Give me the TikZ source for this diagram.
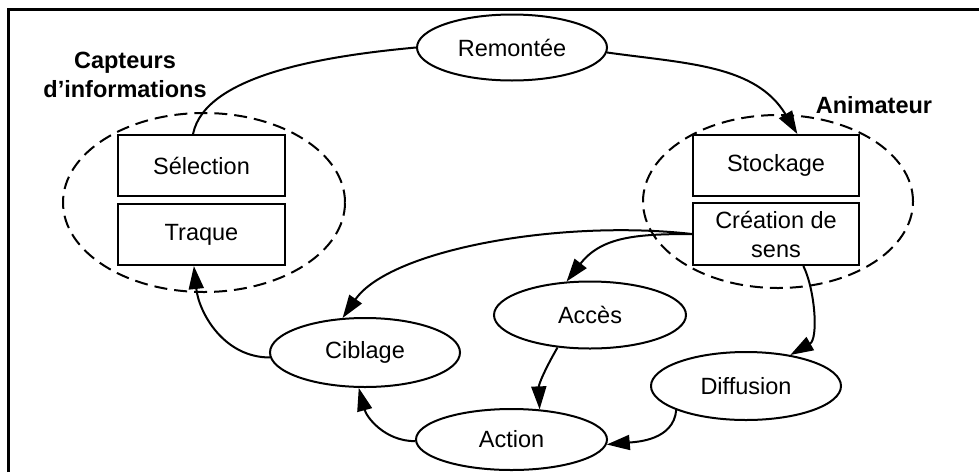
\documentclass[tikz,border=0pt]{standalone}
\usepackage{fontspec}
\setmainfont{Liberation Sans}
\usetikzlibrary{shapes.geometric,arrows.meta,calc}
\tikzset{
  txt/.style={font=\fontsize{23.5}{29}\selectfont, inner sep=0pt},
  lbl/.style={font=\fontsize{23.5}{29}\selectfont\bfseries, inner sep=0pt, align=center},
  oval/.style={txt, draw, ellipse, line width=2pt},
  boxn/.style={txt, draw, rectangle, line width=2pt, minimum width=167pt, minimum height=61pt, align=center},
  group/.style={draw, ellipse, line width=2pt, dash pattern=on 13pt off 7pt, inner sep=0pt},
  conn/.style={line width=2pt},
  arr/.style={conn, -{Triangle[length=23pt,width=15pt]}},
  frame/.style={line width=2.7pt}
}
\begin{document}
\begin{tikzpicture}[x=1pt,y=1pt]
\useasboundingbox (0,0) rectangle (979,-472);
\draw[frame] (8.7,-472) -- (8.7,-9.3) -- (979,-9.3);

% groups
\node[group, minimum width=282pt, minimum height=179pt] (gl) at (204,-202.5) {};
\node[group, minimum width=270pt, minimum height=173pt] (gr) at (778,-201.5) {};

% boxes
\node[boxn] (sel) at (201.5,-165.5) {Sélection};
\node[boxn] (trq) at (201.5,-234.5) {Traque};
\node[boxn, minimum width=166pt] (sto) at (776,-165.5) {Stockage};
\node[boxn, minimum width=166pt, minimum height=62pt] (cre) at (776,-234) {Création de\\sens};

% ovals
\node[oval, minimum width=190pt, minimum height=66pt] (rem) at (512,-47.5) {Remontée};
\node[oval, minimum width=190pt, minimum height=69pt] (cib) at (365,-352.5) {Ciblage};
\node[oval, minimum width=192pt, minimum height=67pt] (acc) at (590,-315) {Accès};
\node[oval, minimum width=190pt, minimum height=68pt] (dif) at (746,-386) {Diffusion};
\node[oval, minimum width=191pt, minimum height=61pt] (act) at (511.5,-439.5) {Action};

% labels
\node[lbl] (lcap) at (125,-75) {Capteurs\\d’informations};
\node[lbl] (lani) at (874,-105) {Animateur};

% connectors
\coordinate (selt) at ($(sel.north west)!0.45!(sel.north east)$);
\coordinate (trqb) at ($(trq.south west)!0.455!(trq.south east)$);
\coordinate (stot) at ($(sto.north west)!0.627!(sto.north east)$);
\coordinate (creb) at ($(cre.south west)!0.663!(cre.south east)$);

\draw[conn] (selt) .. controls +(12,60) and +(-87,-8) .. (rem.west);
\draw[arr] (rem.-3) to[out=-8,in=121] (stot);
\draw[arr] (cre.west) .. controls +(-133,15) and +(47,68) .. (cib.123);
\draw[arr] (cre.west) .. controls +(-55,0) and +(35,45) .. (acc.125);
\draw[arr] (creb) .. controls +(12,-25) and +(28,16) .. (dif.35);
\draw[arr] (acc.225) to[out=-120,in=92] (act.47);
\draw[arr] (dif.199) to[out=-95,in=5] (act.-3);
\draw[arr] (act.181) to[out=180,in=-75] (cib.260);
\draw[arr] (cib.183) to[out=180,in=-84] (trqb);
\end{tikzpicture}
\end{document}
